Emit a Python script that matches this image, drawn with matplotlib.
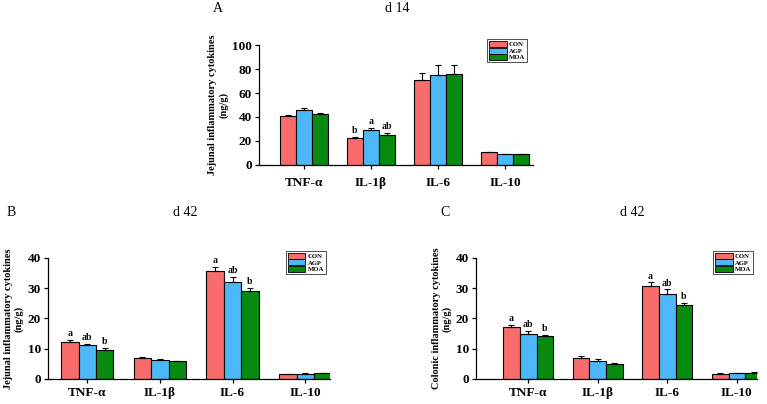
import numpy as np
import matplotlib
matplotlib.use('Agg')
import matplotlib.pyplot as plt
from matplotlib.patches import Patch

plt.rcParams['font.family'] = ['Liberation Serif', 'DejaVu Serif']

cytokines = ['TNF-α', 'IL-1β', 'IL-6', 'IL-10']
groups = ['CON', 'AGP', 'MOA']
colors = ['#F86C6C', '#4DB8F8', '#078A0E']

# panel A: jejunum d 14
a_mean = [[41.0, 22.5, 71.0, 10.5],
          [46.0, 29.5, 75.0, 9.0],
          [42.5, 25.0, 75.5, 9.0]]
a_err = [[1.0, 0.7, 6.0, 0.6],
         [1.5, 1.5, 8.0, 0.3],
         [0.8, 1.5, 8.0, 0.3]]
a_letters = {1: ['b', 'a', 'ab']}

# panel B: jejunum d 42
b_mean = [[12.3, 6.8, 35.8, 1.6],
          [11.2, 6.3, 32.2, 1.8],
          [9.7, 5.8, 29.2, 2.0]]
b_err = [[0.6, 0.5, 1.2, 0.1],
         [0.5, 0.2, 1.5, 0.1],
         [0.6, 0.2, 0.9, 0.1]]
b_letters = {0: ['a', 'ab', 'b'], 2: ['a', 'ab', 'b']}

# panel C: colon d 42
c_mean = [[17.1, 7.0, 30.6, 1.8],
          [15.0, 6.1, 28.1, 2.0],
          [14.3, 4.9, 24.4, 2.1]]
c_err = [[0.7, 0.7, 1.3, 0.1],
         [1.0, 0.6, 1.5, 0.1],
         [0.3, 0.4, 0.7, 0.1]]
c_letters = {0: ['a', 'ab', 'b'], 2: ['a', 'ab', 'b']}


def draw_panel(ax, means, errs, letters, ymax, step, ylabel, xlim, leg_anchor, lpad):
    x = np.arange(len(cytokines))
    w = 0.24
    for i, g in enumerate(groups):
        xs = x + (i - 1) * w
        ax.bar(xs, means[i], w, color=colors[i], edgecolor='black', linewidth=0.8, zorder=2)
        ax.errorbar(xs, means[i], yerr=[np.zeros(len(x)), errs[i]], fmt='none',
                    ecolor='black', elinewidth=0.8, capsize=2, capthick=0.8, zorder=3)
    for k, labs in letters.items():
        for i, t in enumerate(labs):
            ax.text(k + (i - 1) * w, means[i][k] + errs[i][k] + ymax * 0.015, t,
                    ha='center', va='bottom', fontsize=7, fontweight='bold')
    ax.set_ylim(0, ymax)
    ax.set_xlim(*xlim)
    ax.set_yticks(np.arange(0, ymax + 1, step))
    ax.set_xticks(x)
    ax.set_xticklabels(cytokines)
    for s in ['top', 'right']:
        ax.spines[s].set_visible(False)
    for s in ['left', 'bottom']:
        ax.spines[s].set_linewidth(0.9)
    ax.tick_params(axis='both', labelsize=9.5, width=0.9, length=3)
    ax.tick_params(axis='x', pad=lpad)
    ax.tick_params(axis='y', pad=2)
    for lab in ax.get_xticklabels() + ax.get_yticklabels():
        lab.set_fontweight('bold')
    ax.set_ylabel(ylabel, fontsize=7.5, fontweight='bold', labelpad=3)
    handles = [Patch(facecolor=colors[i], edgecolor='black', linewidth=0.6, label=g)
               for i, g in enumerate(groups)]
    leg = ax.legend(handles=handles, loc='upper right', bbox_to_anchor=leg_anchor,
                    fontsize=4.8, frameon=True, fancybox=False, edgecolor='black',
                    handlelength=2.6, handleheight=1.0, borderpad=0.3,
                    labelspacing=0.05, handletextpad=0.3, borderaxespad=0)
    leg.get_frame().set_linewidth(0.6)
    for t in leg.get_texts():
        t.set_fontweight('bold')


fig = plt.figure(figsize=(7.67, 4.04), dpi=100)

axA = fig.add_axes([0.3377, 0.5916, 0.3573, 0.297])
draw_panel(axA, a_mean, a_err, a_letters, 100, 20,
           'Jejunal inflammatory cytokines\n(ng/g)', (-0.67, 3.42), (0.978, 1.05), 6)
axB = fig.add_axes([0.0626, 0.0619, 0.3676, 0.2995])
draw_panel(axB, b_mean, b_err, b_letters, 40, 10,
           'Jejunal inflammatory cytokines\n(ng/g)', (-0.54, 3.34), (0.985, 1.06), 3)
axC = fig.add_axes([0.6206, 0.0619, 0.3664, 0.2995])
draw_panel(axC, c_mean, c_err, c_letters, 40, 10,
           'Colonic inflammatory cytokines\n(ng/g)', (-0.75, 3.29), (0.985, 1.06), 3)

fig.text(213 / 767, 1 - 9 / 404, 'A', fontsize=10, va='center', ha='left')
fig.text(397 / 767, 1 - 9 / 404, 'd 14', fontsize=10, va='center', ha='center')
fig.text(7 / 767, 1 - 212 / 404, 'B', fontsize=10, va='center', ha='left')
fig.text(185 / 767, 1 - 212 / 404, 'd 42', fontsize=10, va='center', ha='center')
fig.text(440 / 767, 1 - 212 / 404, 'C', fontsize=10, va='center', ha='left')
fig.text(632 / 767, 1 - 212 / 404, 'd 42', fontsize=10, va='center', ha='center')

fig.savefig('out.png', dpi=100)
